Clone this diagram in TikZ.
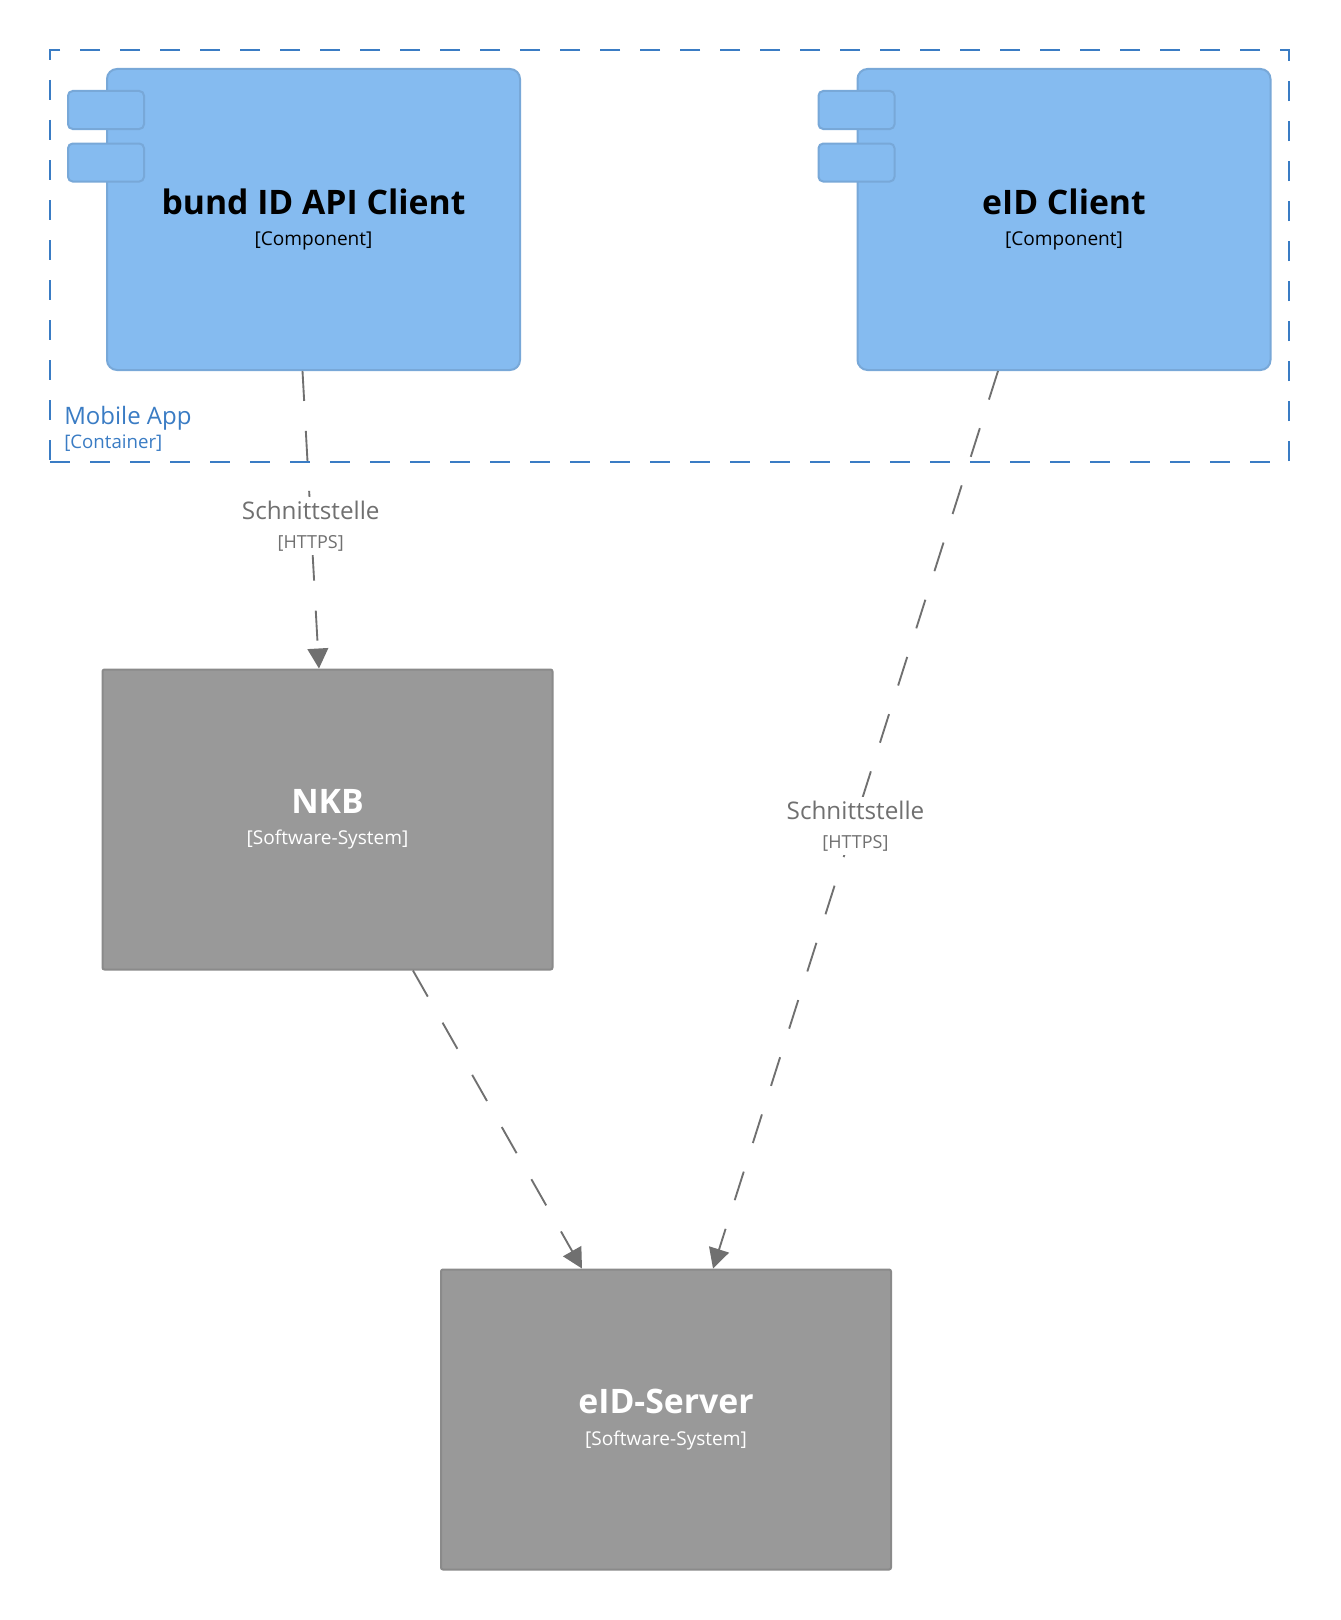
\documentclass[tikz,border=0pt]{standalone}
\usepackage{fontspec}
\setmainfont{Open Sans}
\usetikzlibrary{arrows.meta}

\definecolor{compfill}{HTML}{85BBF0}
\definecolor{compborder}{HTML}{78A8D8}
\definecolor{sysfill}{HTML}{999999}
\definecolor{sysborder}{HTML}{8A8A8A}
\definecolor{boundaryblue}{HTML}{3A7CC4}
\definecolor{linkgray}{HTML}{707070}

\newcommand{\elemtitle}[1]{{\fontsize{25.3}{30}\selectfont\bfseries #1}}
\newcommand{\linktitle}[1]{{\fontsize{18.2}{22}\selectfont #1}}

\tikzstyle{component} = [rectangle, rounded corners=7.5pt, draw=compborder, fill=compfill, line width=1.5pt, minimum width=309.75pt, minimum height=225.75pt, align=center, text=black, font=\fontsize{14.3}{23.5}\selectfont]
\tikzstyle{comptab} = [rectangle, rounded corners=3.5pt, draw=compborder, fill=compfill, line width=1.5pt, minimum width=57pt, minimum height=28.5pt]
\tikzstyle{system} = [rectangle, rounded corners=1.5pt, draw=sysborder, fill=sysfill, line width=1.5pt, minimum width=337.5pt, minimum height=225pt, align=center, text=white, font=\fontsize{14.3}{23.5}\selectfont]
\tikzstyle{boundary} = [rectangle, draw=boundaryblue, line width=1.5pt, dash pattern=on 15pt off 15pt, minimum width=929.25pt, minimum height=309pt]
\tikzstyle{boundarylabel} = [align=left, text=boundaryblue, inner sep=0pt, font=\fontsize{14}{17.5}\selectfont]
\tikzstyle{linklabel} = [fill=white, text=linkgray, align=center, inner sep=3pt, yshift=-4.6pt, font=\fontsize{13.5}{22}\selectfont]
\tikzstyle{arrow} = [draw=linkgray, line width=1.4pt, dash pattern=on 22.5pt off 22.5pt, -{Triangle[length=15pt,width=15.5pt]}]

\begin{document}
\begin{tikzpicture}[x=0.75pt, y=-0.75pt]
\useasboundingbox (0,0) rectangle (1340,1620);
\fill[white] (0,0) rectangle (1340,1620);

\node (mobileapp) [boundary] at (669.5,256) {};
\node (mobileapplabel) [boundarylabel, anchor=west] at ([xshift=11.25pt, yshift=25.5pt]mobileapp.south west) {\fontsize{18}{22}\selectfont Mobile App\\{[Container]}};

\node (bundid) [component] at (313.5,219.5) {\elemtitle{bund ID API Client}\\{[Component]}};
\node (bundidtaba) [comptab] at ([yshift=-31.5pt]bundid.north west) {};
\node (bundidtabb) [comptab] at ([yshift=-70.9pt]bundid.north west) {};

\node (eidclient) [component] at (1064,219.5) {\elemtitle{eID Client}\\{[Component]}};
\node (eidclienttaba) [comptab] at ([yshift=-31.5pt]eidclient.north west) {};
\node (eidclienttabb) [comptab] at ([yshift=-70.9pt]eidclient.north west) {};

\node (nkb) [system] at (327.5,819.5) {\elemtitle{NKB}\\{[Software-System]}};
\node (eidserver) [system] at (666,1419.5) {\elemtitle{eID-Server}\\{[Software-System]}};

\draw [arrow] ([xshift=-8.25pt]bundid.south) -- node[linklabel, midway] {\linktitle{Schnittstelle}\\{[HTTPS]}} ([xshift=-6.4pt]nkb.north);
\draw [arrow] ([xshift=64.1pt]nkb.south) -- ([xshift=-63pt]eidserver.north);
\draw [arrow] ([xshift=-49.5pt]eidclient.south) -- node[linklabel, midway] {\linktitle{Schnittstelle}\\{[HTTPS]}} ([xshift=35.25pt]eidserver.north);
\end{tikzpicture}
\end{document}
